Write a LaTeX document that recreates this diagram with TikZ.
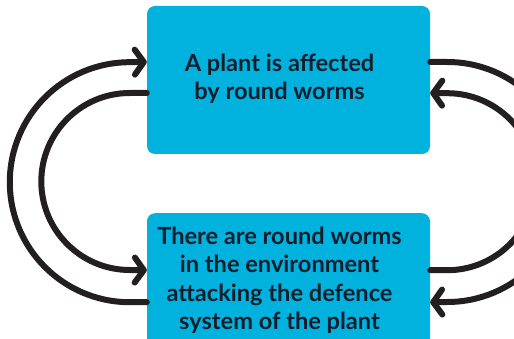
\documentclass[tikz,border=0pt]{standalone}
\usepackage{fontspec}
\setmainfont{Lato}
\usetikzlibrary{arrows.meta}
\definecolor{boxcyan}{HTML}{00B2DD}
\definecolor{inkdark}{HTML}{231F20}
\definecolor{textnavy}{HTML}{0F1E2C}
% text block set a little left of the box centre
\newcommand{\stagetext}[2][0pt]{\kern-18pt\raisebox{#1}{\begin{tabular}{@{}c@{}}#2\end{tabular}}}
\begin{document}
\begin{tikzpicture}[x=1pt,y=-1pt,
  every node/.style={font=\bfseries\fontsize{23.6}{28.5}\selectfont,text=textnavy},
  stagebox/.style={fill=boxcyan,rounded corners=8pt,minimum width=283pt},
  flow/.style={draw=inkdark,line width=6pt,line cap=round,-{Straight Barb[length=9pt,width=25pt,round]}}]
\useasboundingbox (0,0) rectangle (514,339);
\clip (0,0) rectangle (514,339);
\node[stagebox,minimum height=148pt] (top) at (288.5,80) {\stagetext[4pt]{A plant is affected\\by round worms}};
\node[stagebox,minimum height=136pt,anchor=north] (bot) at (288.5,213) {\stagetext{There are round worms\\in the environment\\attacking the defence\\system of the plant}};
% left side
\draw[flow] ([yshift=-21pt]bot.west) -- +(-17,0) arc[start angle=90,end angle=270,radius=120] -- ([yshift=18pt]top.west);
\draw[flow] ([yshift=-13pt]top.west) -- +(-17,0) arc[start angle=270,end angle=90,radius=88.5] -- ([yshift=11pt]bot.west);
% right side
\draw[flow] ([yshift=18pt]top.east) -- +(17,0) arc[start angle=-90,end angle=90,radius=120] -- ([yshift=-21pt]bot.east);
\draw[flow] ([yshift=11pt]bot.east) -- +(17,0) arc[start angle=90,end angle=-90,radius=88.5] -- ([yshift=-13pt]top.east);
\end{tikzpicture}
\end{document}
